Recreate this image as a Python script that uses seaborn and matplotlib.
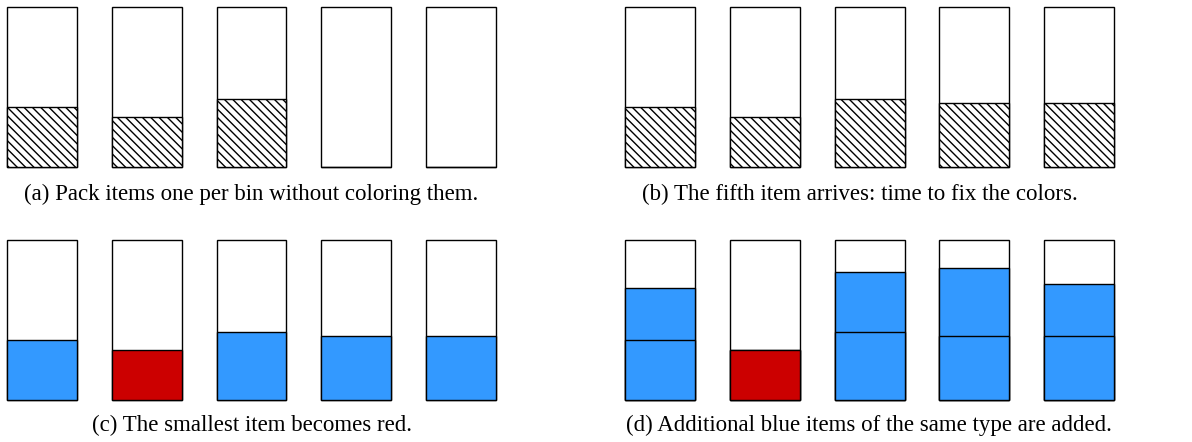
"""
Bin packing with coloured items: four small panels of five bins each.
"""

import matplotlib
matplotlib.use("Agg")
import matplotlib.pyplot as plt
import seaborn as sns

sns.set_style("white")
plt.rcParams["font.family"] = ["Liberation Serif", "DejaVu Serif"]
plt.rcParams["hatch.linewidth"] = 1.0

# data (bin capacity = 1)
bins = ["B1", "B2", "B3", "B4", "B5"]
capacity = [1, 1, 1, 1, 1]
first_items = [0.375, 0.3125, 0.425, 0.40, 0.40]
second_items = [0.325, 0.0, 0.375, 0.425, 0.325]
arrived_a = [True, True, True, False, False]
item_colors = ["#3399FF", "#CC0000", "#3399FF", "#3399FF", "#3399FF"]
captions = [
    "(a) Pack items one per bin without coloring them.",
    "(b) The fifth item arrives: time to fix the colors.",
    "(c) The smallest item becomes red.",
    "(d) Additional blue items of the same type are added.",
]

W, H = 1192, 442
BAR_W = 0.669
HATCH = "\\" * 4
fig = plt.figure(figsize=(W / 100, H / 100), dpi=100)

# pixel geometry of each panel: left edge of first bin, pitch, top, bottom
panels = [
    (7.3, 104.6, 7.3, 167.3),
    (625.3, 104.7, 7.3, 167.3),
    (7.3, 104.6, 240.3, 400.3),
    (625.3, 104.7, 240.3, 400.3),
]
caption_pos = [(251, 194), (860, 194), (252, 425), (869, 425)]


def make_ax(left, pitch, top, bottom):
    width = (4 + BAR_W) * pitch
    ax = fig.add_axes([left / W, (H - bottom) / H, width / W, (bottom - top) / H])
    return ax


def bar(ax, heights, **kw):
    sns.barplot(x=bins, y=heights, ax=ax, width=BAR_W, edgecolor="black",
                linewidth=1.0, errorbar=None, saturation=1, **kw)


for i, (left, pitch, top, bottom) in enumerate(panels):
    ax = make_ax(left, pitch, top, bottom)
    bar(ax, capacity, color="white")

    if i == 0:
        shown = [h if a else 0 for h, a in zip(first_items, arrived_a)]
        bar(ax, shown, color="white", hatch=HATCH)
    elif i == 1:
        bar(ax, first_items, color="white", hatch=HATCH)
    elif i == 2:
        bar(ax, first_items, hue=bins, palette=item_colors, legend=False)
    else:
        totals = [a + b for a, b in zip(first_items, second_items)]
        bar(ax, totals, hue=bins, palette=item_colors, legend=False)
        bar(ax, first_items, hue=bins, palette=item_colors, legend=False)

    for p in ax.patches:
        p.set_clip_on(False)
    ax.set_xlim(-BAR_W / 2, 4 + BAR_W / 2)
    ax.set_ylim(0, 1)
    ax.axis("off")

for (cx, cy), text in zip(caption_pos, captions):
    fig.text(cx / W, (H - cy) / H, text, ha="center", va="center",
             fontsize=16.5, color="black")

fig.savefig("out.png", dpi=100)
